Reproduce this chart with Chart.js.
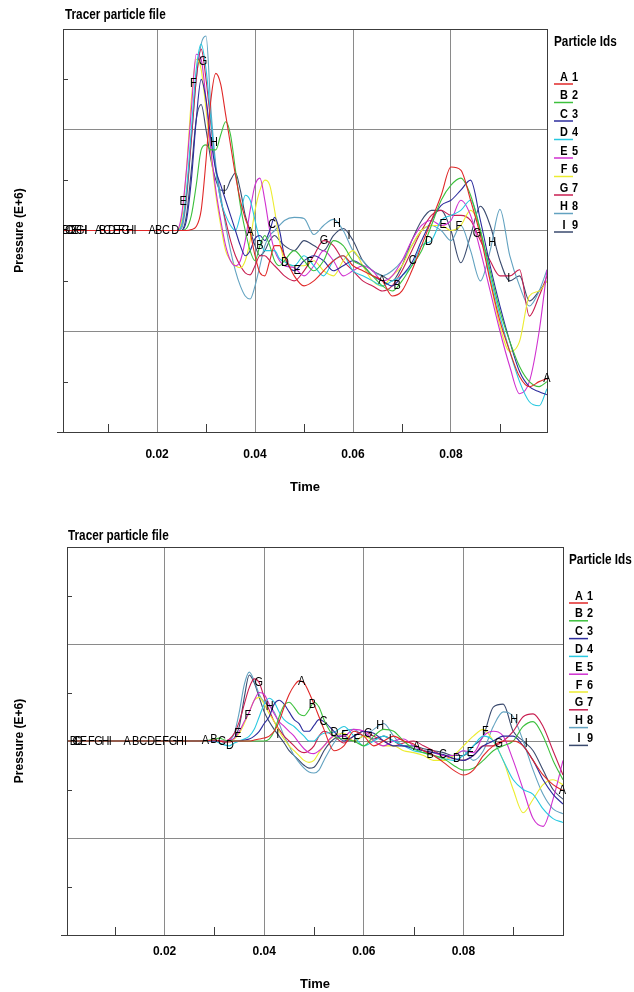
<!DOCTYPE html>
<html>
<head>
<meta charset="utf-8">
<title>Tracer particle file</title>
<script src="https://cdn.jsdelivr.net/npm/chart.js@4.4.0/dist/chart.umd.min.js"></script>
<style>
  html, body { margin: 0; padding: 0; background: #fff; }
  .panel { position: absolute; left: 0; width: 634px; height: 496px; }
  #topPanel { top: 0; }
  #bottomPanel { top: 496px; }
</style>
</head>
<body>
<div class="panel" id="topPanel"><canvas id="chartTop"></canvas></div>
<div class="panel" id="bottomPanel"><canvas id="chartBottom"></canvas></div>
<script>
// ================================================
// Data
// ================================================

const particleLetters = ['A', 'B', 'C', 'D', 'E', 'F', 'G', 'H', 'I'];
const particleIds = [1, 2, 3, 4, 5, 6, 7, 8, 9];
const particleColors = ['#e02828', '#3cc03c', '#2c2c9c', '#28c8e0', '#d030d0',
                        '#ecec30', '#c81e50', '#62a2c0', '#3a4a6e'];

const xTickValues = [0.02, 0.04, 0.06, 0.08];
const xMinorTicks = [0.01, 0.03, 0.05, 0.07, 0.09];
const yTickValues = [-1, 0, 1];
const yMinorTicks = [-1.5, -0.5, 0.5, 1.5];

// upper plot
const topTimes = [0.0008, 0.022, 0.024,
  0.025, 0.026, 0.027, 0.028, 0.029, 0.030, 0.031, 0.032, 0.033, 0.034,
  0.035, 0.036, 0.037, 0.038, 0.039, 0.040, 0.041, 0.042, 0.043, 0.044, 0.045, 0.046,
  0.048, 0.050, 0.052, 0.054, 0.056, 0.058, 0.060, 0.062, 0.064, 0.066, 0.068, 0.070,
  0.072, 0.074, 0.076, 0.078, 0.080, 0.082, 0.084, 0.086, 0.088, 0.090, 0.092, 0.094,
  0.096, 0.098, 0.0996];

const topA = [0, 0, 0,
  0, 0, 0.01, 0.04, 0.2, 0.7, 1.3, 1.56, 1.45, 1.15,
  0.85, 0.55, 0.3, 0.12, -0.02, -0.25, -0.42, -0.45, -0.3, -0.15, -0.15, -0.25,
  -0.45, -0.55, -0.5, -0.4, -0.3, -0.25, -0.35, -0.4, -0.45, -0.5, -0.65, -0.6,
  -0.4, -0.15, 0.1, 0.35, 0.63, 0.6, 0.3, -0.05, -0.5, -0.9, -1.2, -1.45,
  -1.55, -1.5, -1.47];
const topB = [0, 0, 0,
  0, 0.02, 0.15, 0.45, 0.8, 0.85, 0.8, 0.8, 0.95, 1.08,
  0.95, 0.6, 0.25, 0.0, -0.2, -0.3, -0.15, -0.05, -0.15, -0.3, -0.35, -0.3,
  -0.2, -0.3, -0.4, -0.3, -0.1, -0.15, -0.3, -0.35, -0.45, -0.55, -0.6, -0.5,
  -0.35, -0.2, 0.05, 0.3, 0.45, 0.52, 0.35, 0.0, -0.4, -0.8, -1.1, -1.35,
  -1.5, -1.55, -1.5];
const topC = [0, 0, 0,
  0, 0.1, 0.5, 1.1, 1.5, 1.3, 0.9, 0.6, 0.45, 0.3,
  0.15, 0.0, -0.15, -0.25, -0.2, -0.08, -0.05, -0.1, 0.0, 0.13, 0.0, -0.25,
  -0.4, -0.3, -0.25, -0.3, -0.4, -0.35, -0.3, -0.35, -0.45, -0.5, -0.55, -0.45,
  -0.32, -0.1, 0.1, 0.25, 0.3, 0.4, 0.5, 0.1, -0.35, -0.75, -1.1, -1.4,
  -1.55, -1.6, -1.63];
const topD = [0, 0, 0,
  0.05, 0.4, 1.0, 1.6, 1.85, 1.6, 1.1, 0.6, 0.3, 0.15,
  0.05, 0.0, 0.15, 0.35, 0.3, 0.1, -0.1, -0.2, -0.2, -0.2, -0.28, -0.31,
  -0.35, -0.25, -0.35, -0.45, -0.3, -0.25, -0.4, -0.45, -0.5, -0.55, -0.5, -0.45,
  -0.35, -0.15, -0.1, 0.1, 0.15, 0.2, 0.3, 0.0, -0.45, -0.85, -1.2, -1.5,
  -1.7, -1.74, -1.57];
const topE = [0, 0, 0,
  0.15, 0.6, 1.2, 1.75, 1.7, 1.3, 0.8, 0.4, 0.1, -0.15,
  -0.3, -0.35, -0.3, -0.1, 0.2, 0.45, 0.52, 0.3, 0.0, -0.2, -0.3, -0.35,
  -0.37, -0.45, -0.35, -0.2, -0.3, -0.45, -0.4, -0.35, -0.4, -0.5, -0.45, -0.3,
  -0.1, 0.05, 0.1, 0.05, 0.1, 0.3, 0.15, -0.2, -0.6, -1.0, -1.35, -1.62,
  -1.5, -1.0, -0.39];
const topF = [0, 0, 0,
  0.1, 0.6, 1.3, 1.7, 1.6, 1.2, 0.75, 0.35, 0.05, -0.2,
  -0.3, -0.35, -0.37, -0.3, -0.1, 0.2, 0.4, 0.5, 0.45, 0.2, -0.1, -0.3,
  -0.35, -0.35, -0.3, -0.4, -0.45, -0.3, -0.2, -0.35, -0.5, -0.55, -0.45, -0.35,
  -0.15, 0.0, 0.05, 0.05, 0.0, 0.05, 0.2, 0.0, -0.5, -0.95, -1.2, -1.1,
  -0.65, -0.6, -0.5];
const topG = [0, 0, 0,
  0.05, 0.35, 0.9, 1.5, 1.8, 1.5, 1.05, 0.6, 0.3, 0.1,
  -0.1, -0.25, -0.35, -0.42, -0.44, -0.35, -0.25, -0.25, -0.3, -0.35, -0.4, -0.45,
  -0.5, -0.4, -0.25, -0.1, -0.15, -0.3, -0.4, -0.5, -0.55, -0.6, -0.55, -0.4,
  -0.2, 0.0, 0.15, 0.2, 0.15, 0.15, 0.1, -0.1, -0.3, -0.45, -0.45, -0.39,
  -0.85, -0.65, -0.45];
const topH = [0, 0, 0,
  0.02, 0.3, 0.9, 1.5, 1.85, 1.93, 1.2, 0.65, 0.35, 0.05,
  -0.2, -0.4, -0.55, -0.65, -0.68, -0.55, -0.35, -0.15, -0.05, 0.0, 0.05, 0.1,
  0.13, 0.12, -0.04, 0.05, 0.11, 0.0, -0.2, -0.3, -0.4, -0.45, -0.4, -0.3,
  -0.15, 0.0, 0.05, 0.0, -0.1, 0.05, -0.2, -0.5, -0.2, 0.21, -0.25, -0.55,
  -0.75, -0.6, -0.39];
const topI = [0, 0, 0,
  0.0, 0.15, 0.6, 1.1, 1.25, 1.0, 0.7, 0.5, 0.4, 0.4,
  0.5, 0.57, 0.4, 0.15, 0.0, -0.15, -0.25, -0.2, -0.1, -0.05, -0.1, -0.15,
  -0.2, -0.1, -0.15, -0.2, -0.05, 0.02, -0.1, -0.3, -0.4, -0.45, -0.5, -0.35,
  -0.1, 0.1, 0.2, 0.2, 0.0, -0.32, -0.05, 0.24, 0.05, -0.3, -0.5, -0.45,
  -0.7, -0.6, -0.5];

// letters written along the curves: [particle, time]
const topMarks = [
  ['B', 0.0014], ['C', 0.0020], ['D', 0.0026], ['E', 0.0032], ['F', 0.0038], ['G', 0.0043], ['H', 0.0049], ['I', 0.0055],
  ['A', 0.0080], ['B', 0.0089], ['C', 0.0098], ['D', 0.0108], ['E', 0.0117], ['F', 0.0127], ['G', 0.0136], ['H', 0.0145], ['I', 0.0155],
  ['A', 0.0190], ['B', 0.0203], ['C', 0.0218], ['D', 0.0237], ['E', 0.0253], ['F', 0.0274], ['G', 0.0294], ['H', 0.0316], ['I', 0.0337],
  ['A', 0.0390], ['B', 0.0410], ['C', 0.0435], ['D', 0.0461], ['E', 0.0486], ['F', 0.0512], ['G', 0.0541], ['H', 0.0567], ['I', 0.0592],
  ['A', 0.0659], ['B', 0.0690], ['C', 0.0722], ['D', 0.0755], ['E', 0.0784], ['F', 0.0816], ['G', 0.0853], ['H', 0.0884], ['I', 0.0918],
  ['A', 0.0996]
];

// lower plot
const bottomTimes = [0.0004, 0.026, 0.028, 0.030,
  0.031, 0.032, 0.033, 0.034, 0.035, 0.036, 0.037, 0.038, 0.039, 0.040,
  0.041, 0.042, 0.043, 0.044, 0.045, 0.046, 0.047, 0.048, 0.049, 0.050,
  0.051, 0.052, 0.054, 0.056, 0.058, 0.060, 0.062, 0.064, 0.066, 0.068, 0.070,
  0.072, 0.074, 0.076, 0.078, 0.080, 0.082, 0.084, 0.086, 0.088, 0.090,
  0.092, 0.094, 0.096, 0.098, 0.100];

const bottomA = [0, 0, 0, 0.01,
  0, -0.01, -0.01, 0, 0, 0, 0, 0.01, 0.02, 0.03,
  0.05, 0.1, 0.2, 0.35, 0.48, 0.57, 0.62, 0.6, 0.5, 0.38,
  0.25, 0.12, -0.1, -0.05, 0.1, 0.05, -0.05, 0.0, 0.05, 0.0, -0.03,
  -0.1, -0.15, -0.22, -0.3, -0.35, -0.3, -0.15, -0.05, 0.0, 0.0,
  -0.05, -0.2, -0.35, -0.45, -0.51];
const bottomB = [0, 0, 0, 0.02,
  0.03, 0.01, 0, 0, 0, 0, 0, 0, 0, 0,
  0.02, 0.1, 0.25, 0.37, 0.4, 0.35, 0.28, 0.26, 0.32, 0.4,
  0.35, 0.22, 0.05, 0.02, 0.0, -0.05, 0.05, 0.12, 0.1, 0.0, -0.08,
  -0.12, -0.15, -0.18, -0.25, -0.3, -0.28, -0.2, -0.1, -0.05, 0.0,
  0.15, 0.2, 0.05, -0.2, -0.4];
const bottomC = [0, 0, 0, 0,
  0, -0.01, 0, 0, 0, 0.01, 0.02, 0.05, 0.1, 0.18,
  0.25, 0.38, 0.42, 0.38, 0.3, 0.22, 0.18, 0.1, 0.1, 0.16,
  0.22, 0.2, 0.1, 0.0, 0.05, 0.1, 0.08, 0.0, -0.05, -0.05, -0.08,
  -0.1, -0.12, -0.14, -0.18, -0.2, -0.15, -0.05, 0.0, 0.05, 0.05,
  -0.05, -0.2, -0.4, -0.55, -0.65];
const bottomD = [0, 0, 0, 0,
  -0.02, -0.04, -0.05, -0.02, 0, 0.02, 0.05, 0.12, 0.25, 0.38,
  0.44, 0.4, 0.3, 0.22, 0.18, 0.15, 0.1, 0.05, 0.0, 0.0,
  0.05, 0.08, 0.09, 0.15, 0.05, -0.05, 0.0, 0.05, 0.0, -0.05, -0.1,
  -0.12, -0.15, -0.18, -0.2, -0.15, -0.05, 0.05, 0.0, -0.2, -0.4,
  -0.5, -0.55, -0.7, -0.8, -0.84];
const bottomE = [0, 0, 0, 0,
  0, 0, 0.01, 0.03, 0.1, 0.2, 0.3, 0.42, 0.5, 0.48,
  0.38, 0.28, 0.2, 0.15, 0.1, 0.05, -0.02, -0.08, -0.12, -0.13,
  -0.1, -0.05, 0.05, 0.05, 0.12, 0.1, 0.0, -0.05, 0.0, 0.02, -0.05,
  -0.1, -0.12, -0.15, -0.15, -0.1, -0.12, 0.05, 0.1, 0.05, -0.2,
  -0.5, -0.8, -0.88, -0.6, -0.2];
const bottomF = [0, 0, 0, 0,
  0, 0, 0, 0.02, 0.08, 0.18, 0.3, 0.42, 0.45, 0.38,
  0.28, 0.2, 0.1, 0.02, -0.05, -0.1, -0.15, -0.2, -0.22, -0.2,
  -0.12, -0.05, 0.05, 0.08, 0.0, 0.05, 0.0, -0.05, -0.05, -0.1, -0.12,
  -0.15, -0.2, -0.2, -0.15, -0.05, 0.05, 0.12, 0.0, -0.2, -0.5,
  -0.74, -0.6, -0.45, -0.4, -0.45];
const bottomG = [0, 0, 0, 0,
  0, 0, 0.02, 0.08, 0.2, 0.38, 0.55, 0.64, 0.6, 0.45,
  0.32, 0.2, 0.12, 0.05, 0.0, -0.05, -0.1, -0.12, -0.1, -0.05,
  0.05, 0.1, 0.05, -0.02, 0.05, 0.1, 0.05, 0.0, -0.05, -0.02, 0.0,
  -0.05, -0.1, -0.15, -0.18, -0.2, -0.15, -0.05, -0.05, 0.0, 0.1,
  0.25, 0.28, 0.15, -0.1, -0.35];
const bottomH = [0, 0, 0, 0,
  0, 0, 0.01, 0.08, 0.3, 0.58, 0.71, 0.62, 0.48, 0.4,
  0.36, 0.3, 0.18, 0.05, -0.05, -0.15, -0.22, -0.28, -0.32, -0.33,
  -0.3, -0.2, -0.02, 0.1, 0.12, 0.05, 0.12, 0.18, 0.05, -0.05, -0.05,
  -0.1, -0.15, -0.2, -0.15, -0.1, -0.2, -0.1, 0.15, 0.3, 0.25,
  0.0, -0.3, -0.55, -0.7, -0.75];
const bottomI = [0, 0, 0, 0,
  0, 0, 0, 0.03, 0.15, 0.45, 0.68, 0.6, 0.45, 0.3,
  0.2, 0.12, 0.05, -0.02, -0.1, -0.15, -0.2, -0.25, -0.28, -0.27,
  -0.2, -0.1, 0.02, 0.05, 0.0, 0.05, 0.02, 0.05, 0.0, -0.05, -0.05,
  -0.08, -0.1, -0.12, -0.15, -0.15, -0.05, 0.05, 0.35, 0.38, 0.1,
  0.0, -0.1, -0.3, -0.5, -0.6];

const bottomMarks = [
  ['B', 0.0017], ['C', 0.0023], ['D', 0.0028], ['E', 0.0037], ['F', 0.0053], ['G', 0.0067], ['H', 0.0081], ['I', 0.0091],
  ['A', 0.0125], ['B', 0.0142], ['C', 0.0157], ['D', 0.0173], ['E', 0.0187], ['F', 0.0202], ['G', 0.0217], ['H', 0.0231], ['I', 0.0242],
  ['A', 0.0282], ['B', 0.0299], ['C', 0.0315], ['D', 0.0331], ['E', 0.0347], ['F', 0.0367], ['G', 0.0389], ['H', 0.0411], ['I', 0.0427],
  ['A', 0.0475], ['B', 0.0497], ['C', 0.0519], ['D', 0.0541], ['E', 0.0562], ['F', 0.0586], ['G', 0.0609], ['H', 0.0633], ['I', 0.0653],
  ['A', 0.0706], ['B', 0.0733], ['C', 0.0759], ['D', 0.0787], ['E', 0.0814], ['F', 0.0844], ['G', 0.0871], ['H', 0.0902], ['I', 0.0926],
  ['A', 0.0999]
];

// ================================================
// Helpers
// ================================================

const SANS = '"Liberation Sans", Arial, sans-serif';

// linear read of a series at time t (for placing the curve letters)
function valueAt(times, values, t) {
  for (let i = 1; i < times.length; i++) {
    if (t <= times[i]) {
      const f = (t - times[i - 1]) / (times[i] - times[i - 1]);
      return values[i - 1] + f * (values[i] - values[i - 1]);
    }
  }
  return values[values.length - 1];
}

// squeezed text, looks like a narrow face
function narrowText(ctx, text, x, y, align) {
  ctx.save();
  ctx.translate(x, y);
  ctx.scale(0.84, 1);
  ctx.textAlign = align;
  ctx.fillText(text, 0, 0);
  ctx.restore();
}

// frame, minor ticks, curve letters, title and the particle legend
const tracerDecor = {
  id: 'tracerDecor',
  afterDatasetsDraw(chart, args, opts) {
    const { ctx, chartArea: a, scales: { x, y } } = chart;
    ctx.save();
    ctx.strokeStyle = '#3c3c3c';
    ctx.lineWidth = 1;
    ctx.strokeRect(a.left + 0.5, a.top + 0.5, a.right - a.left, a.bottom - a.top);

    ctx.beginPath();
    yMinorTicks.forEach(v => {
      const py = Math.round(y.getPixelForValue(v)) + 0.5;
      ctx.moveTo(a.left, py);
      ctx.lineTo(a.left + 5, py);
    });
    xMinorTicks.forEach(v => {
      const px = Math.round(x.getPixelForValue(v)) + 0.5;
      ctx.moveTo(px, a.bottom);
      ctx.lineTo(px, a.bottom - 8);
    });
    ctx.moveTo(a.left - 6, a.bottom + 0.5);
    ctx.lineTo(a.left, a.bottom + 0.5);
    ctx.stroke();

    ctx.font = '13px ' + SANS;
    ctx.fillStyle = '#000';
    ctx.textBaseline = 'middle';
    const times = chart.data.labels;
    opts.marks.forEach(([letter, t]) => {
      const ds = chart.data.datasets[particleLetters.indexOf(letter)];
      const v = valueAt(times, ds.data, t);
      narrowText(ctx, letter, x.getPixelForValue(t), y.getPixelForValue(v), 'center');
    });
    ctx.restore();
  },
  afterDraw(chart, args, opts) {
    const { ctx } = chart;
    ctx.save();
    ctx.fillStyle = '#000';
    ctx.textBaseline = 'middle';
    ctx.font = 'bold 14px ' + SANS;
    narrowText(ctx, 'Tracer particle file', opts.titleX, opts.titleY, 'left');
    narrowText(ctx, 'Particle Ids', opts.legendX, opts.legendY, 'left');

    ctx.font = 'bold 13px ' + SANS;
    chart.data.datasets.forEach((ds, i) => {
      const cy = opts.itemY + i * opts.itemGap;
      narrowText(ctx, ds.label, opts.legendX + 10, cy, 'center');
      narrowText(ctx, String(particleIds[i]), opts.legendX + 18, cy, 'left');
      ctx.strokeStyle = ds.borderColor;
      ctx.lineWidth = 1.5;
      ctx.beginPath();
      ctx.moveTo(opts.legendX, cy + 7);
      ctx.lineTo(opts.legendX + 19, cy + 7);
      ctx.stroke();
    });
    ctx.restore();
  }
};

function buildChart(canvasId, cfg) {
  const axisFont = { family: SANS, size: 12, weight: 'bold' };
  return new Chart(document.getElementById(canvasId), {
    type: 'line',
    data: {
      labels: cfg.times,
      datasets: cfg.series.map((values, i) => ({
        label: particleLetters[i],
        data: values,
        borderColor: particleColors[i],
        borderWidth: 1.1,
        pointRadius: 0,
        fill: false,
        cubicInterpolationMode: 'monotone'
      }))
    },
    options: {
      responsive: true,
      maintainAspectRatio: false,
      animation: false,
      events: [],
      layout: { padding: { top: cfg.plotTop, right: cfg.padRight, bottom: 0, left: 0 } },
      plugins: {
        legend: { display: false },
        tooltip: { enabled: false },
        tracerDecor: cfg.decor
      },
      scales: {
        x: {
          type: 'linear',
          min: cfg.xMin,
          max: cfg.xMax,
          afterBuildTicks: scale => { scale.ticks = xTickValues.map(v => ({ value: v })); },
          afterFit: scale => { scale.height = cfg.xAxisHeight; },
          ticks: {
            color: '#000',
            font: axisFont,
            padding: cfg.xTickPad,
            maxRotation: 0,
            callback: v => v.toFixed(2)
          },
          grid: { color: '#8a8a8a', drawTicks: false },
          border: { display: true, color: '#3c3c3c' },
          title: {
            display: true,
            text: 'Time',
            color: '#000',
            font: { family: SANS, size: 13, weight: 'bold' },
            padding: { top: 0, bottom: cfg.timePad }
          }
        },
        y: {
          type: 'linear',
          min: cfg.yMin,
          max: cfg.yMax,
          afterBuildTicks: scale => { scale.ticks = yTickValues.map(v => ({ value: v })); },
          afterFit: scale => { scale.width = cfg.plotLeft; },
          ticks: { display: false },
          grid: { color: '#8a8a8a', drawTicks: false },
          border: { display: true, color: '#3c3c3c' },
          title: {
            display: true,
            text: 'Pressure (E+6)',
            color: '#000',
            font: axisFont,
            padding: { top: 12, bottom: 0 }
          }
        }
      }
    },
    plugins: [tracerDecor]
  });
}

// ================================================
// Charts
// ================================================

document.addEventListener('DOMContentLoaded', function() {
  buildChart('chartTop', {
    times: topTimes,
    series: [topA, topB, topC, topD, topE, topF, topG, topH, topI],
    xMin: 0.0008, xMax: 0.0996, yMin: -2, yMax: 2,
    plotTop: 29, plotLeft: 63, padRight: 87, xAxisHeight: 64,
    xTickPad: 15, timePad: 1,
    decor: { marks: topMarks, titleX: 65, titleY: 15, legendX: 554, legendY: 42, itemY: 77, itemGap: 18.5 }
  });

  buildChart('chartBottom', {
    times: bottomTimes,
    series: [bottomA, bottomB, bottomC, bottomD, bottomE, bottomF, bottomG, bottomH, bottomI],
    xMin: 0.0004, xMax: 0.1, yMin: -2, yMax: 2,
    plotTop: 51, plotLeft: 67, padRight: 71, xAxisHeight: 57,
    xTickPad: 9, timePad: 0,
    decor: { marks: bottomMarks, titleX: 68, titleY: 40, legendX: 569, legendY: 64, itemY: 100, itemGap: 17.8 }
  });
});
</script>
</body>
</html>
